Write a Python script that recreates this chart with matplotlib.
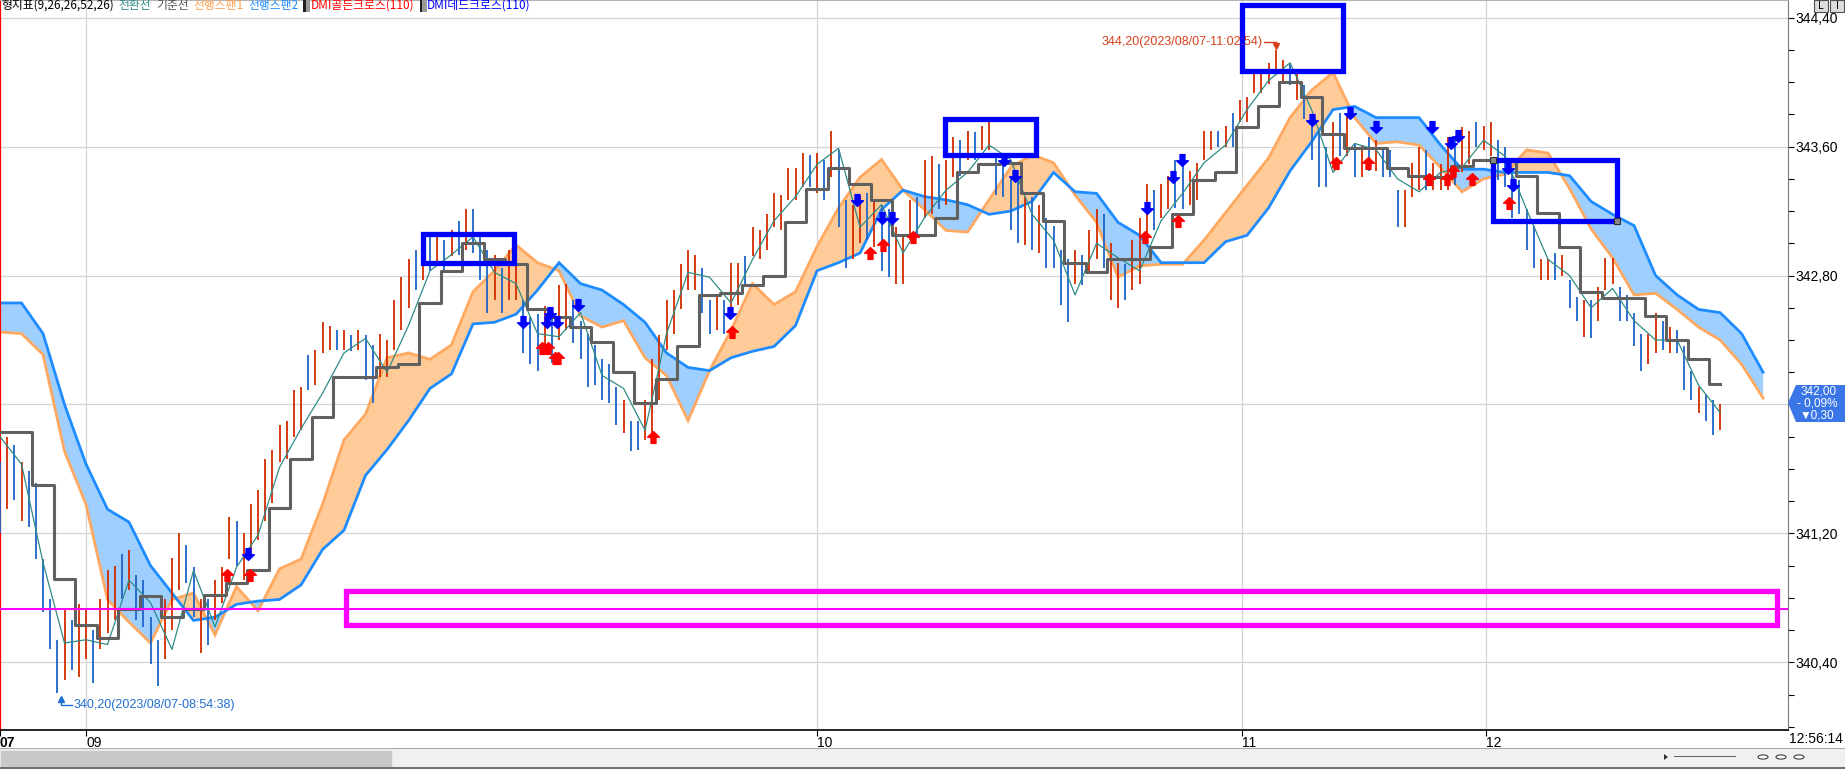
import numpy as np
import matplotlib
matplotlib.use("Agg")
import matplotlib.pyplot as plt
from matplotlib.path import Path
from matplotlib.patches import Rectangle, Polygon, Circle
from matplotlib.offsetbox import TextArea, HPacker, AnchoredOffsetbox, DrawingArea
from matplotlib.ticker import FuncFormatter

KR = ['Noto Sans CJK KR', 'DejaVu Sans']
NARROW = ['Liberation Sans Narrow', 'Liberation Sans', 'DejaVu Sans']

# ---------------- data ----------------
LINE_STEP = 12   # bars between line samples
BAR_STEP = 4     # bars between drawn price bars

tenkan = [341.80, 341.63, 341.02, 340.52, 340.54, 340.51, 340.91, 340.77, 340.48, 340.97,
          340.62, 340.99, 341.19, 341.61, 341.85, 342.07, 342.32, 342.41, 342.20, 342.49,
          342.83, 342.93, 343.04, 342.82, 342.75, 342.44, 342.42, 342.57, 342.18, 342.10,
          341.84, 342.44, 342.82, 342.79, 342.63, 342.90, 343.14, 343.29, 343.49, 343.59,
          343.10, 343.24, 342.94, 343.16, 343.33, 343.44, 343.61, 343.52, 343.18, 343.02,
          342.68, 343.00, 342.91, 342.83, 343.14, 343.31, 343.50, 343.61, 343.83, 344.01,
          344.12, 343.83, 343.44, 343.62, 343.58, 343.40, 343.32, 343.44, 343.47, 343.64,
          343.54, 343.21, 342.90, 342.80, 342.60, 342.72, 342.52, 342.40, 342.40, 342.12,
          341.95]

kijun = [341.83, 341.83, 341.50, 340.92, 340.63, 340.55, 340.73, 340.81, 340.68, 340.73,
         340.82, 340.89, 340.97, 341.36, 341.66, 341.92, 342.17, 342.17, 342.23, 342.25,
         342.63, 342.83, 343.00, 342.90, 342.87, 342.59, 342.54, 342.48, 342.39, 342.20,
         342.01, 342.16, 342.36, 342.68, 342.69, 342.74, 342.80, 343.13, 343.34, 343.47,
         343.37, 343.27, 343.05, 343.05, 343.16, 343.44, 343.49, 343.50, 343.31, 343.14,
         342.88, 342.82, 342.90, 342.90, 342.98, 343.18, 343.39, 343.44, 343.72, 343.85,
         344.00, 343.91, 343.68, 343.59, 343.59, 343.47, 343.42, 343.41, 343.48, 343.52,
         343.52, 343.42, 343.19, 342.98, 342.70, 342.66, 342.66, 342.55, 342.40, 342.28,
         342.13]

span1 = [342.45, 342.44, 342.31, 341.71, 341.38, 340.79, 340.65, 340.52, 340.79, 340.83,
         340.57, 340.87, 340.72, 340.98, 341.04, 341.38, 341.78, 341.94, 342.29, 342.32,
         342.28, 342.37, 342.70, 342.83, 342.99, 342.88, 342.83, 342.55, 342.48, 342.52,
         342.29, 342.18, 341.90, 342.21, 342.46, 342.75, 342.62, 342.70, 342.98, 343.22,
         343.41, 343.52, 343.33, 343.21, 343.08, 343.07, 343.27, 343.47, 343.55, 343.50,
         343.30, 343.13, 342.79, 342.86, 342.87, 342.87, 343.02, 343.19, 343.36, 343.53,
         343.78, 343.95, 344.06, 343.78, 343.62, 343.63, 343.61, 343.47, 343.32, 343.40,
         343.43, 343.58, 343.56, 343.34, 343.09, 342.91, 342.68, 342.69, 342.59, 342.48,
         342.40, 342.25, 342.04]

span2 = [342.63, 342.63, 342.44, 342.00, 341.63, 341.35, 341.27, 341.00, 340.83, 340.66,
         340.68, 340.76, 340.78, 340.79, 340.88, 341.10, 341.22, 341.56, 341.72, 341.90,
         342.10, 342.19, 342.50, 342.51, 342.56, 342.71, 342.88, 342.75, 342.71, 342.62,
         342.51, 342.32, 342.23, 342.21, 342.29, 342.33, 342.36, 342.49, 342.83, 342.88,
         342.94, 343.21, 343.33, 343.29, 343.27, 343.24, 343.18, 343.20, 343.26, 343.44,
         343.32, 343.31, 343.13, 343.05, 342.88, 342.88, 342.88, 343.01, 343.05, 343.22,
         343.45, 343.63, 343.83, 343.85, 343.78, 343.78, 343.78, 343.61, 343.46, 343.46,
         343.44, 343.44, 343.44, 343.42, 343.26, 343.18, 343.11, 342.80, 342.68, 342.59,
         342.57, 342.44, 342.20]

bar_high = [
    341.64, 341.80, 341.75, 341.64, 341.59, 341.51, 341.04, 340.79, 340.54, 340.73, 340.66, 340.76,
    340.73, 340.60, 340.79, 340.97, 341.00, 341.07, 341.10, 340.94, 340.91, 340.68, 340.54, 340.79,
    341.05, 341.20, 341.13, 340.99, 340.79, 340.79, 340.91, 340.99, 341.30, 341.28, 341.20, 341.38,
    341.47, 341.66, 341.72, 341.87, 341.90, 342.09, 342.11, 342.31, 342.34, 342.51, 342.49, 342.46,
    342.46, 342.43, 342.46, 342.43, 342.37, 342.44, 342.40, 342.65, 342.79, 342.90, 342.96, 343.02,
    343.05, 343.06, 343.02, 343.08, 343.14, 343.21, 343.21, 343.05, 342.96, 342.93, 342.85, 342.96,
    342.93, 342.65, 342.54, 342.56, 342.61, 342.59, 342.74, 342.75, 342.65, 342.52, 342.44, 342.37,
    342.28, 342.25, 342.11, 342.03, 341.90, 341.90, 342.03, 342.28, 342.43, 342.65, 342.71, 342.87,
    342.96, 342.93, 342.85, 342.65, 342.68, 342.65, 342.88, 342.88, 342.92, 343.10, 343.08, 343.18,
    343.31, 343.30, 343.47, 343.47, 343.56, 343.55, 343.56, 343.52, 343.70, 343.58, 343.27, 343.24,
    343.30, 343.31, 343.27, 343.24, 343.21, 343.10, 343.05, 343.27, 343.29, 343.52, 343.54, 343.49,
    343.52, 343.66, 343.64, 343.70, 343.69, 343.73, 343.75, 343.55, 343.54, 343.41, 343.39, 343.29,
    343.29, 343.24, 343.16, 343.11, 342.96, 342.90, 342.96, 342.93, 343.08, 343.21, 343.18, 343.00,
    342.88, 342.87, 343.02, 343.16, 343.37, 343.33, 343.37, 343.42, 343.52, 343.49, 343.45, 343.50,
    343.70, 343.70, 343.70, 343.73, 343.81, 343.89, 343.91, 344.06, 344.08, 344.12, 344.20, 344.14,
    344.12, 344.06, 343.98, 343.78, 343.70, 343.60, 343.75, 343.81, 343.81, 343.62, 343.61, 343.66,
    343.64, 343.60, 343.58, 343.33, 343.33, 343.50, 343.60, 343.58, 343.50, 343.49, 343.66, 343.64,
    343.72, 343.70, 343.75, 343.73, 343.75, 343.64, 343.60, 343.44, 343.39, 343.21, 343.11, 342.90,
    342.90, 342.94, 342.93, 342.77, 342.67, 342.65, 342.65, 342.73, 342.91, 342.91, 342.73, 342.68,
    342.57, 342.44, 342.44, 342.57, 342.52, 342.48, 342.46, 342.36, 342.21, 342.11, 342.06, 342.03,
    342.00]

bar_low = [
    341.20, 341.35, 341.41, 341.28, 341.24, 341.04, 340.71, 340.48, 340.21, 340.29, 340.35, 340.31,
    340.42, 340.27, 340.48, 340.58, 340.66, 340.79, 340.85, 340.66, 340.62, 340.39, 340.25, 340.42,
    340.60, 340.85, 340.89, 340.68, 340.46, 340.51, 340.66, 340.77, 341.04, 341.00, 340.91, 341.07,
    341.16, 341.28, 341.39, 341.64, 341.66, 341.80, 341.84, 342.09, 342.12, 342.32, 342.34, 342.34,
    342.34, 342.33, 342.34, 342.15, 342.01, 342.17, 342.17, 342.34, 342.46, 342.60, 342.71, 342.77,
    342.83, 342.87, 342.82, 342.92, 342.93, 342.96, 342.94, 342.77, 342.57, 342.65, 342.57, 342.65,
    342.65, 342.32, 342.25, 342.21, 342.31, 342.26, 342.40, 342.46, 342.38, 342.28, 342.11, 342.12,
    342.03, 342.01, 341.87, 341.82, 341.71, 341.72, 341.78, 341.80, 342.03, 342.34, 342.44, 342.59,
    342.71, 342.71, 342.57, 342.44, 342.46, 342.44, 342.57, 342.62, 342.73, 342.92, 342.90, 342.96,
    343.10, 343.08, 343.27, 343.27, 343.35, 343.35, 343.31, 343.27, 343.41, 343.10, 342.85, 342.90,
    343.00, 343.02, 342.98, 342.83, 342.79, 342.75, 342.75, 343.02, 343.05, 343.16, 343.18, 343.21,
    343.24, 343.41, 343.42, 343.52, 343.52, 343.58, 343.58, 343.30, 343.29, 343.08, 343.00, 342.99,
    342.96, 342.94, 342.85, 342.85, 342.62, 342.51, 342.75, 342.74, 342.83, 342.90, 342.85, 342.65,
    342.60, 342.65, 342.71, 342.75, 343.04, 343.08, 343.16, 343.21, 343.22, 343.21, 343.24, 343.27,
    343.52, 343.58, 343.60, 343.60, 343.60, 343.75, 343.75, 343.93, 343.93, 343.99, 344.06, 343.99,
    343.98, 343.89, 343.77, 343.52, 343.35, 343.35, 343.47, 343.54, 343.54, 343.41, 343.41, 343.45,
    343.45, 343.41, 343.41, 343.10, 343.10, 343.29, 343.33, 343.33, 343.33, 343.33, 343.33, 343.36,
    343.44, 343.49, 343.60, 343.58, 343.54, 343.39, 343.35, 343.16, 343.18, 342.96, 342.85, 342.77,
    342.77, 342.77, 342.80, 342.60, 342.52, 342.42, 342.41, 342.52, 342.71, 342.75, 342.52, 342.52,
    342.36, 342.21, 342.25, 342.32, 342.34, 342.32, 342.32, 342.09, 342.03, 341.95, 341.90, 341.81,
    341.84]

# u = up (red) bar, d = down (blue) bar
bar_dir = ("dud" "udd" "ddd" "udu" "udu" "uud" "udd" "ddu" "uud" "dud"
           "uuu" "duu" "uuu" "uuu" "udu" "uud" "udu" "ddu" "uuu" "udu"
           "dud" "udu" "ddd" "udu" "udd" "dud" "uud" "ddd" "ddd" "udd"
           "uuu" "uuu" "uud" "dud" "uud" "uuu" "uuu" "uud" "udu" "ddu"
           "udu" "ddu" "uud" "uud" "uud" "udu" "udd" "ddu" "dud" "ddd"
           "udu" "udu" "udu" "uud" "uud" "duu" "uud" "udu" "uuu" "uuu"
           "dud" "ddd" "udu" "dud" "udd" "duu" "udu" "uud" "uud" "uud"
           "ddd" "ddu" "udu" "ddu" "duu" "udd" "ddu" "udu" "ddd" "udd" "u")

# DMI golden cross (red up arrows) and dead cross (blue down arrows): bar index, price
golden_x = [126.7, 139.5, 302.5, 305.9, 309.8, 311.4, 364.5, 408.6, 485.6, 492.8, 509.6,
            639.1, 657.5, 745.7, 763.5, 797.6, 807.6, 811.0, 821.6, 842.2]
golden_y = [340.94, 340.94, 342.35, 342.35, 342.29, 342.29, 341.80, 342.45, 342.94, 342.99, 343.04,
            343.04, 343.14, 343.50, 343.50, 343.40, 343.40, 343.45, 343.40, 343.25]
dead_x = [138.4, 291.9, 305.3, 307.0, 310.9, 322.6, 407.4, 478.3, 492.3, 497.9, 560.4, 566.5,
          640.2, 654.7, 659.7, 732.3, 753.5, 768.0, 799.2, 809.8, 813.7, 841.7, 844.5]
dead_y = [341.07, 342.51, 342.51, 342.57, 342.51, 342.62, 342.57, 343.27, 343.16, 343.16, 343.52, 343.42,
          343.22, 343.41, 343.52, 343.765, 343.81, 343.72, 343.72, 343.62, 343.665, 343.47, 343.36]

# user drawings: (x0, x1, price_low, price_high)
blue_boxes = [(236.1, 286.9, 342.88, 343.06),
              (527.4, 578.2, 343.55, 343.77),
              (693.2, 749.6, 344.07, 344.48),
              (833.3, 902.5, 343.14, 343.52)]
magenta_box = (193.1, 991.8, 340.63, 340.84)
magenta_level = 340.73

date_ticks = [0, 48.0, 456.0, 693.2, 829.4]
date_labels = ['07', '09', '10', '11', '12']
price_major = [340.4, 341.2, 342.0, 342.8, 343.6, 344.4]
price_minor = [340.0, 340.2, 340.6, 340.8, 341.0, 341.4, 341.6, 341.8, 342.2, 342.4,
               342.6, 343.0, 343.2, 343.4, 343.8, 344.0, 344.2]

high_price, high_x = 344.20, 712.0
low_price, low_x = 340.20, 34.0
high_label = "344,20(2023/08/07-11:02:54)"
low_label = "340,20(2023/08/07-08:54:38)"
last_price = 342.00
last_price_txt = "342,00"
change_pct_txt = "- 0,09%"
change_abs_txt = "\u25bc0,30"
clock_txt = "12:56:14"

legend_items = [("형지표(9,26,26,52,26)", '#000000'),
                ("전환선", '#2E8B87'),
                ("기준선", '#555555'),
                ("선행스팬1", '#FFA050'),
                ("선행스팬2", '#1E8CFF'),
                ("DMI골든크로스(110)", '#FF0000'),
                ("DMI데드크로스(110)", '#0000FF')]

# ---------------- figure ----------------
W, H = 1845, 769
fig = plt.figure(figsize=(W / 100, H / 100), dpi=100)
fig.patch.set_facecolor('white')

def fx(px):
    return px / W

def fy(py):
    return 1 - py / H

ax = fig.add_axes([0, fy(730), fx(1788), 730 / H])
ax.set_facecolor('white')

XMAX = 997.9
YMIN, YMAX = 339.98, 344.51

# grid
for p in price_major:
    ax.axhline(p, color='#D4D4D4', lw=0.9, zorder=0.5)
for t in date_ticks[1:]:
    ax.axvline(t, color='#D4D4D4', lw=0.9, zorder=0.5)

# cloud
xs = np.arange(len(span1)) * LINE_STEP
s1 = np.array(span1)
s2 = np.array(span2)
ax.fill_between(xs, s1, s2, where=s1 >= s2, interpolate=True, color='#FFCC99', lw=0, zorder=1)
ax.fill_between(xs, s1, s2, where=s2 > s1, interpolate=True, color='#9ECFFF', lw=0, zorder=1)
ax.plot(xs, s1, color='#FFA860', lw=2.0, zorder=2, solid_joinstyle='miter')
ax.plot(xs, s2, color='#1E8CFF', lw=2.0, zorder=2, solid_joinstyle='miter')

# price bars
xb = np.arange(len(bar_high)) * BAR_STEP
bcol = ['#D42A00' if c == 'u' else '#1E64C8' for c in bar_dir]
ax.vlines(xb, bar_low, bar_high, colors=bcol, lw=1.3, zorder=3)

# tenkan / kijun
xl = np.arange(len(tenkan)) * LINE_STEP
ax.plot(xl, tenkan, color='#2E8B87', lw=0.9, zorder=4)
ax.plot(np.arange(len(kijun)) * LINE_STEP, kijun, color='#606060', lw=2.2, zorder=4,
        drawstyle='steps-mid')

# DMI arrows
up_path = Path([(0, 1), (1, 0.05), (0.42, 0.05), (0.42, -1), (-0.42, -1), (-0.42, 0.05), (-1, 0.05), (0, 1)],
               [Path.MOVETO] + [Path.LINETO] * 6 + [Path.CLOSEPOLY])
down_path = Path([(0, -1), (1, -0.05), (0.42, -0.05), (0.42, 1), (-0.42, 1), (-0.42, -0.05), (-1, -0.05), (0, -1)],
                 [Path.MOVETO] + [Path.LINETO] * 6 + [Path.CLOSEPOLY])
ax.plot(golden_x, golden_y, ls='none', marker=up_path, ms=8.5, color='#FF0000', mec='#FF0000', zorder=5)
ax.plot(dead_x, dead_y, ls='none', marker=down_path, ms=8.5, color='#0000FF', mec='#0000FF', zorder=5)

# drawings
for x0, x1, plo, phi in blue_boxes:
    ax.add_patch(Rectangle((x0, plo), x1 - x0, phi - plo, fill=False, ec='#0000FF', lw=3.8, zorder=6))
bx = blue_boxes[3]
ax.plot([bx[0], bx[1]], [bx[3], bx[2]], ls='none', marker='s', ms=4.5, mfc='#8A8A8A', mec='#303030',
        mew=0.8, zorder=7)
ax.axhline(magenta_level, color='#FF00FF', lw=1.5, zorder=6)
mx0, mx1, mlo, mhi = magenta_box
ax.add_patch(Rectangle((mx0, mlo), mx1 - mx0, mhi - mlo, fill=False, ec='#FF00FF', lw=3.8, zorder=6))

# extreme annotations
hy = 344.248
ax.text(704.9, hy, high_label, ha='right', va='center', color='#D8401A', fontsize=9,
        family=NARROW, zorder=8)
ax.plot([705.6, high_x], [hy, hy], color='#D8401A', lw=1.0, zorder=8)
ax.plot([high_x], [hy - 0.022], ls='none', marker='v', ms=4, color='#D8401A', zorder=8)
ly = 340.136
ax.plot([low_x, low_x, 40.2], [340.18, ly, ly], color='#1E6ED2', lw=1.0, zorder=8)
ax.plot([low_x], [340.175], ls='none', marker='^', ms=4, color='#1E6ED2', zorder=8)
ax.text(40.8, ly, low_label, ha='left', va='center', color='#1E6ED2', fontsize=9,
        family=NARROW, zorder=8)

ax.set_xlim(0, XMAX)
ax.set_ylim(YMIN, YMAX)

# axes styling
ax.spines['left'].set_color('#FF0000')
ax.spines['left'].set_linewidth(1.6)
ax.spines['top'].set_color('#B4B4B4')
ax.spines['right'].set_color('#7A7A7A')
ax.spines['bottom'].set_color('#000000')
ax.spines['bottom'].set_linewidth(1.2)

ax.yaxis.tick_right()
ax.set_yticks(price_major)
ax.set_yticks(price_minor, minor=True)
# the label at the last price is hidden behind the current-price box
ax.yaxis.set_major_formatter(FuncFormatter(
    lambda v, p: '' if abs(v - last_price) < 1e-6 else f"{v:.2f}".replace('.', ',')))
ax.tick_params(axis='y', which='both', direction='out', length=4.5, width=0.8, pad=1,
               labelsize=10, colors='black')
for lbl in ax.get_yticklabels():
    lbl.set_family(NARROW)

ax.set_xticks(date_ticks)
ax.set_xticklabels(date_labels)
ax.tick_params(axis='x', direction='out', length=4, width=0.8, pad=0.5, labelsize=10)
for i, lbl in enumerate(ax.get_xticklabels()):
    lbl.set_family(NARROW)
    lbl.set_ha('left')
    if i == 0:
        lbl.set_fontweight('bold')

# legend row
LFS = 8.5
children = []
for i, (txt, col) in enumerate(legend_items):
    if txt.startswith('DMI'):
        da = DrawingArea(5, 10, 0, 0)
        da.add_artist(Rectangle((0, 0), 5, 10, fc='#9A9A9A', ec='none'))
        da.add_artist(Rectangle((0, 0), 1.6, 10, fc='#202020', ec='none'))
        children.append(HPacker(children=[da, TextArea(txt, textprops=dict(color=col, fontsize=LFS, family=KR))],
                                sep=0.5, align='center'))
    else:
        children.append(TextArea(txt, textprops=dict(color=col, fontsize=LFS, family=KR)))
hp = HPacker(children=children, sep=3.5, align='center', pad=0)
aob = AnchoredOffsetbox(loc='upper left', child=hp, pad=0, borderpad=0, frameon=False,
                        bbox_to_anchor=(0.0005, 1.002), bbox_transform=fig.transFigure)
ax.add_artist(aob)

# current price box on the right axis
poly = Polygon([(fx(1788), fy(403)), (fx(1796), fy(385)), (fx(1845), fy(385)),
                (fx(1845), fy(422)), (fx(1796), fy(422))], closed=True,
               transform=fig.transFigure, fc='#3A76E8', ec='none', zorder=10)
fig.add_artist(poly)
fig.text(fx(1819), fy(391), last_price_txt, color='white', fontsize=8.5, ha='center', va='center',
         family=NARROW, zorder=11)
fig.text(fx(1817), fy(403), change_pct_txt, color='white', fontsize=8.5, ha='center', va='center',
         family=NARROW, zorder=11)
fig.text(fx(1817), fy(415), change_abs_txt, color='white', fontsize=8.5, ha='center', va='center',
         family=NARROW + ['DejaVu Sans'], zorder=11)

# top-right buttons
for x0, t in [(1814, 'L'), (1830, 'I')]:
    fig.add_artist(Rectangle((fx(x0), fy(12)), 14 / W, 12 / H, transform=fig.transFigure,
                             fc='#DCDCDC', ec='#505050', lw=0.8, zorder=10))
    fig.text(fx(x0 + 7), fy(6), t, fontsize=7, ha='center', va='center', zorder=11, family='DejaVu Sans')

# clock
fig.text(fx(1843), fy(739), clock_txt, fontsize=10, ha='right', va='center', family=NARROW)

# bottom scroll bar
fig.add_artist(Rectangle((0, 0), 1, 21 / H, transform=fig.transFigure, fc='#F0F0F0', ec='none', zorder=9))
fig.add_artist(Rectangle((0, fy(768)), fx(392), 18 / H, transform=fig.transFigure, fc='#C8C8C8',
                         ec='#E8E8E8', lw=0.8, zorder=9))
fig.add_artist(Rectangle((0, fy(749)), 1, 1.2 / H, transform=fig.transFigure, fc='#A8A8A8', ec='none', zorder=9))
fig.add_artist(Rectangle((0, 0), 1, 2 / H, transform=fig.transFigure, fc='#707070', ec='none', zorder=9))
fig.add_artist(Polygon([(fx(1664), fy(754)), (fx(1668), fy(757)), (fx(1664), fy(760))], closed=True,
                       transform=fig.transFigure, fc='#303030', ec='none', zorder=10))
fig.add_artist(Rectangle((fx(1674), fy(757)), 62 / W, 1.5 / H, transform=fig.transFigure,
                         fc='#606060', ec='none', zorder=10))
for cx in [1763, 1781, 1799]:
    fig.add_artist(Circle((fx(cx), fy(757)), 5 / W, transform=fig.transFigure, fc='white',
                          ec='#404040', lw=0.8, zorder=10))

fig.savefig('out.png', dpi=100)
